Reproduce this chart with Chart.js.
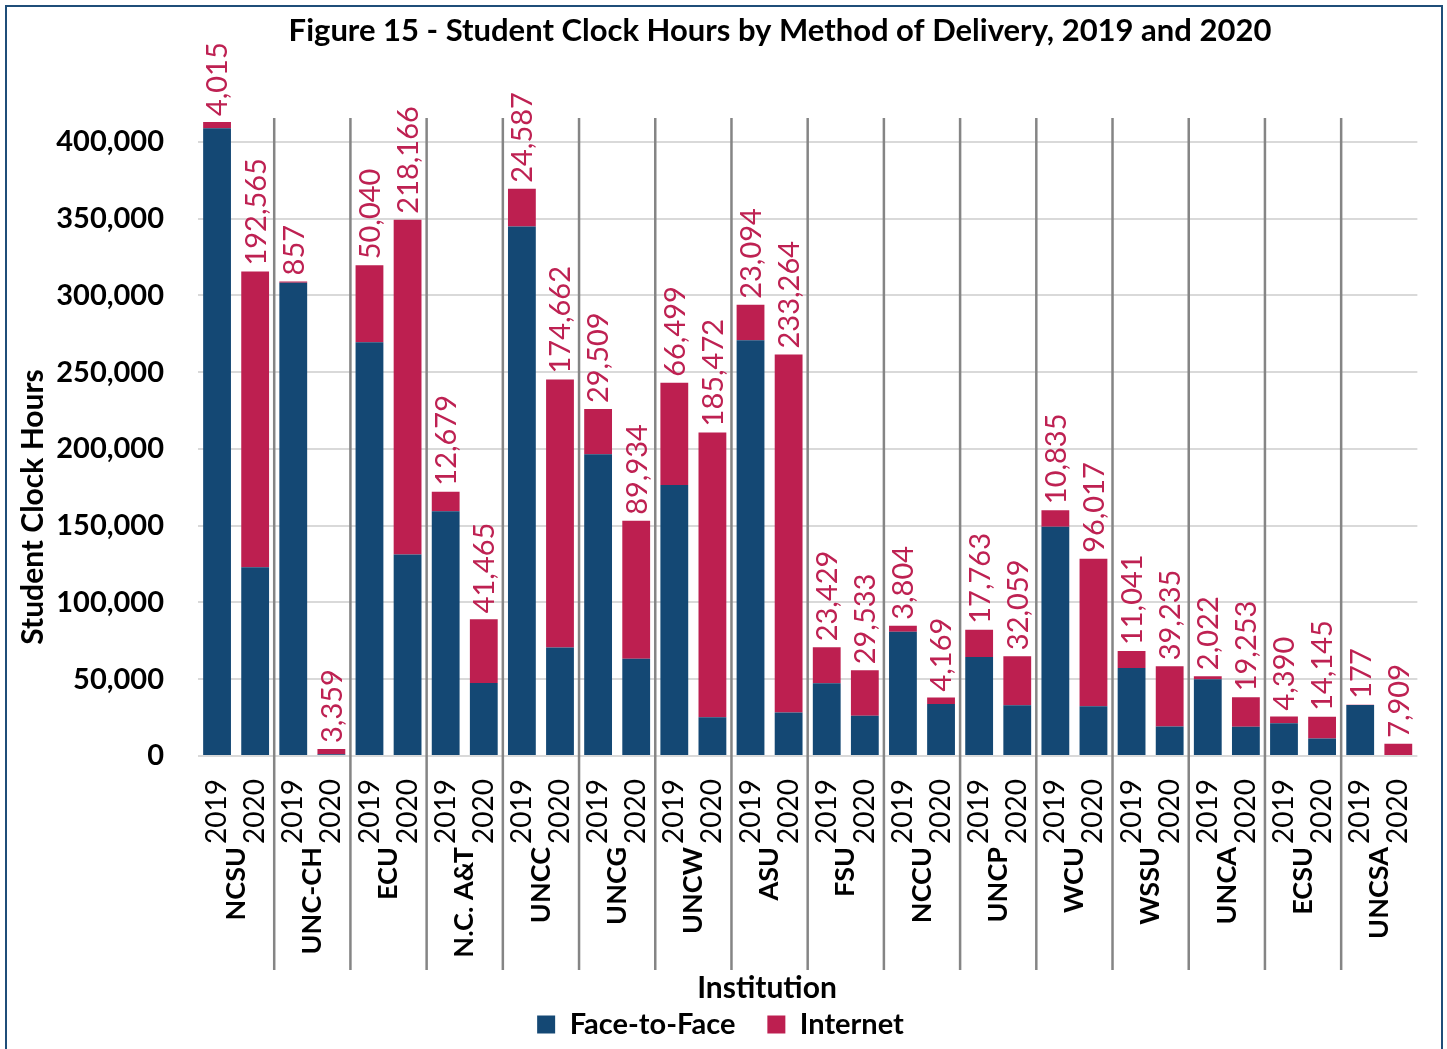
<!DOCTYPE html>
<html>
<head>
<meta charset="utf-8">
<script src="https://cdn.jsdelivr.net/npm/chart.js@4.4.1/dist/chart.umd.min.js"></script>
<style>
  html, body { margin: 0; padding: 0; background: #fff; }
  #wrap { position: relative; width: 1447px; height: 1049px; overflow: hidden; }
  #frame { position: absolute; left: 5px; top: 5px; width: 1434px; height: 1100px; border: 2px solid #1f4e79; pointer-events: none; }
</style>
</head>
<body>
<div id="wrap">
  <canvas id="chart" width="1447" height="1049"></canvas>
  <div id="frame"></div>
</div>
<script>
const institutions = ['NCSU', 'UNC-CH', 'ECU', 'N.C. A&T', 'UNCC', 'UNCG', 'UNCW', 'ASU',
    'FSU', 'NCCU', 'UNCP', 'WCU', 'WSSU', 'UNCA', 'ECSU', 'UNCSA'];
const years = ['2019', '2020'];
// pairs: 2019, 2020 for each institution
const faceToFace = [408900, 123000, 308300, 1200, 269600, 131200, 159500, 47600,
    344900, 70600, 196500, 63300, 176600, 25300, 270800, 28300,
    47400, 26300, 81000, 33900, 64500, 33000, 149300, 32400,
    57300, 19200, 50000, 19000, 21300, 11400, 33200, 0];
const internet = [4015, 192565, 857, 3359, 50040, 218166, 12679, 41465,
    24587, 174662, 29509, 89934, 66499, 185472, 23094, 233264,
    23429, 29533, 3804, 4169, 17763, 32059, 10835, 96017,
    11041, 39235, 2022, 19253, 4390, 14145, 177, 7909];
const yTicks = [0, 50000, 100000, 150000, 200000, 250000, 300000, 350000, 400000];

const FONT = 'Lato, "Open Sans", sans-serif';
const BLUE = '#144874';
const RED = '#bd1f50';
const TITLE = 'Figure 15 - Student Clock Hours by Method of Delivery, 2019 and 2020';

const labels = [];
institutions.forEach(() => years.forEach(y => labels.push(y)));

const fmt = (v) => v.toLocaleString('en-US');

// institution names, dividers, data labels and titles
const extras = {
    id: 'extras',
    afterDatasetsDraw(chart) {
        const ctx = chart.ctx;
        const x = chart.scales.x;
        const y = chart.scales.y;
        const area = chart.chartArea;

        // dividers between institutions
        ctx.save();
        ctx.strokeStyle = '#858585';
        ctx.lineWidth = 2.5;
        for (let i = 1; i < institutions.length; i++) {
            const px = (x.getPixelForValue(2 * i - 1) + x.getPixelForValue(2 * i)) / 2;
            ctx.beginPath();
            ctx.moveTo(px, area.top);
            ctx.lineTo(px, 970);
            ctx.stroke();
        }
        ctx.restore();

        // internet value labels above each bar
        ctx.save();
        ctx.fillStyle = '#be2152';
        ctx.font = '29px ' + FONT;
        ctx.textAlign = 'left';
        ctx.textBaseline = 'middle';
        internet.forEach((v, i) => {
            const px = x.getPixelForValue(i);
            const py = y.getPixelForValue(faceToFace[i] + v) - 6;
            ctx.save();
            ctx.translate(px + 1, py);
            ctx.rotate(-Math.PI / 2);
            ctx.fillText(fmt(v), 0, 0);
            ctx.restore();
        });
        ctx.restore();

        // institution names under the year ticks
        ctx.save();
        ctx.fillStyle = '#000';
        ctx.font = 'bold 27px ' + FONT;
        ctx.textAlign = 'right';
        ctx.textBaseline = 'middle';
        institutions.forEach((name, i) => {
            const px = (x.getPixelForValue(2 * i) + x.getPixelForValue(2 * i + 1)) / 2;
            ctx.save();
            ctx.translate(px, 847);
            ctx.rotate(-Math.PI / 2);
            ctx.fillText(name, 0, 0);
            ctx.restore();
        });

        // chart title and axis titles
        ctx.textAlign = 'center';
        ctx.font = 'bold 31px ' + FONT;
        ctx.fillText(TITLE, 780, 31);
        ctx.font = 'bold 30px ' + FONT;
        ctx.fillText('Institution', 767, 988);
        ctx.save();
        ctx.translate(33, 507);
        ctx.rotate(-Math.PI / 2);
        ctx.font = 'bold 30px ' + FONT;
        ctx.fillText('Student Clock Hours', 0, 0);
        ctx.restore();
        ctx.restore();
    }
};

new Chart(document.getElementById('chart').getContext('2d'), {
    type: 'bar',
    data: {
        labels: labels,
        datasets: [
            { label: 'Face-to-Face', data: faceToFace, backgroundColor: BLUE },
            { label: 'Internet', data: internet, backgroundColor: RED }
        ]
    },
    options: {
        responsive: false,
        animation: false,
        layout: { padding: { left: 0, right: 6, top: 118, bottom: 0 } },
        datasets: { bar: { categoryPercentage: 1, barPercentage: 0.73 } },
        plugins: {
            title: { display: false },
            legend: {
                position: 'bottom',
                labels: {
                    color: '#000',
                    font: { family: FONT, size: 29, weight: 'bold' },
                    boxWidth: 18,
                    boxHeight: 18,
                    padding: 32
                }
            },
            tooltip: { enabled: false }
        },
        scales: {
            x: {
                stacked: true,
                grid: { display: false },
                border: { display: false },
                ticks: {
                    color: '#000',
                    font: { family: FONT, size: 28 },
                    minRotation: 90,
                    maxRotation: 90,
                    autoSkip: false,
                    padding: 15
                },
                afterFit: (scale) => { scale.height = 222; }
            },
            y: {
                stacked: true,
                min: 0,
                max: 415600,
                grid: { color: '#d9d9d9', lineWidth: 2, drawTicks: false },
                border: { display: false },
                ticks: {
                    color: '#000',
                    padding: 34,
                    font: { family: FONT, size: 29, weight: 'bold' },
                    callback: (v) => fmt(v)
                },
                afterBuildTicks: (scale) => { scale.ticks = yTicks.map(v => ({ value: v })); },
                afterFit: (scale) => { scale.width = 198; }
            }
        }
    },
    plugins: [extras]
});
</script>
</body>
</html>
